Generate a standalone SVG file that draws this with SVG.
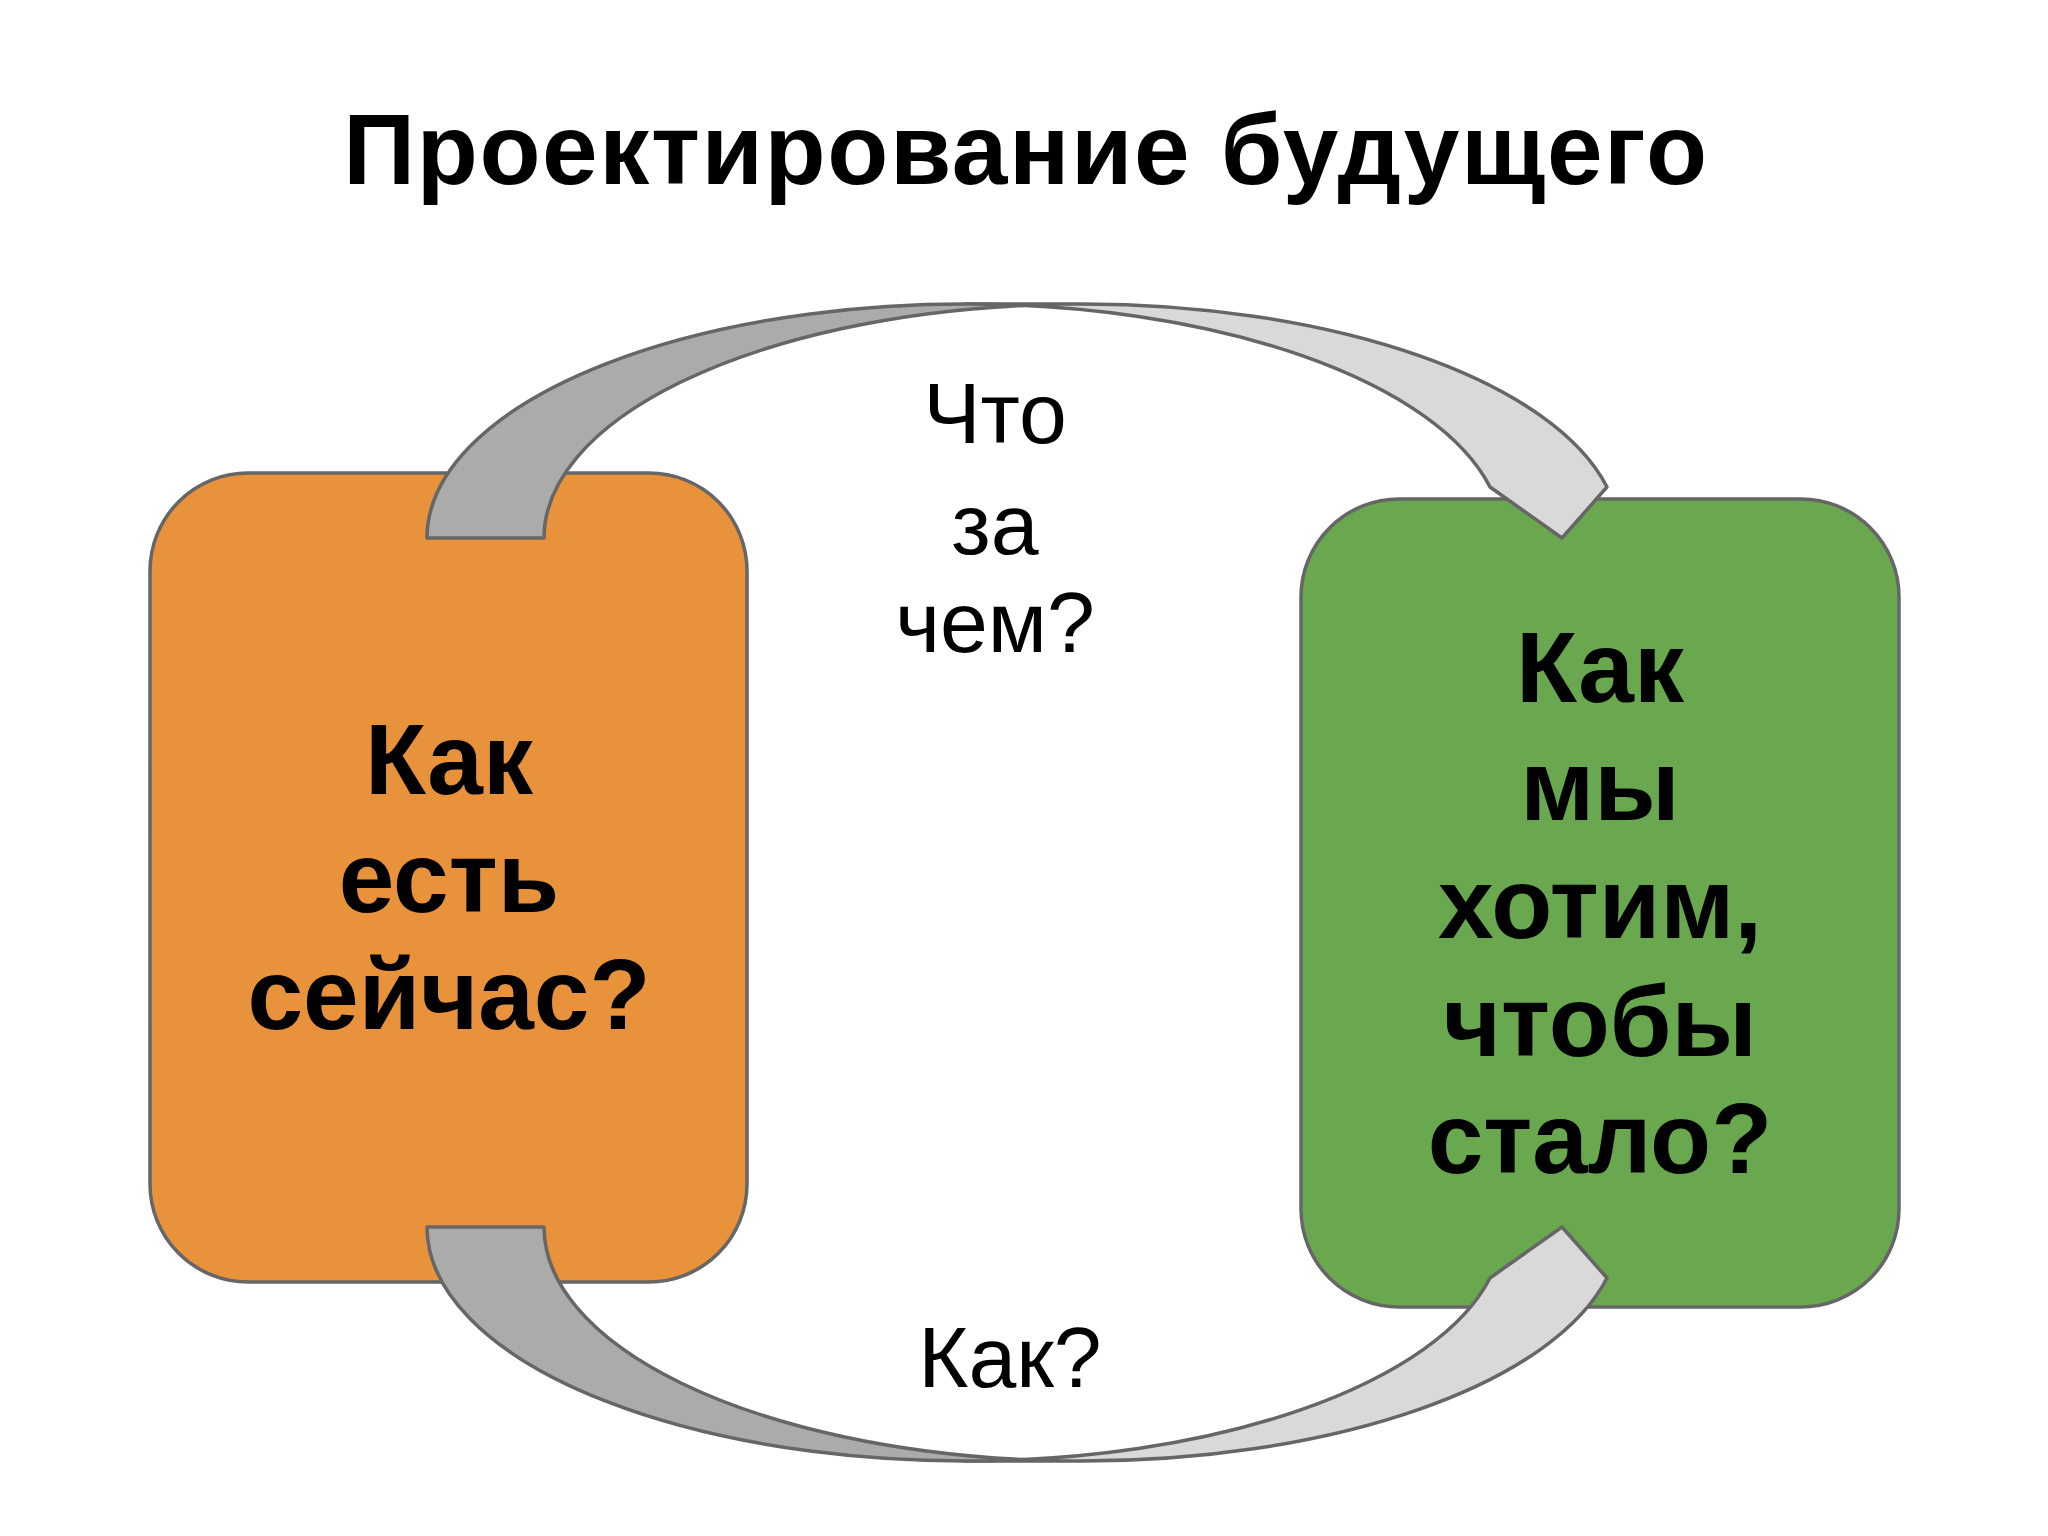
<svg xmlns="http://www.w3.org/2000/svg" xmlns:xlink="http://www.w3.org/1999/xlink" width="2048" height="1536" viewBox="0 0 2048 1536">
<style>
.box{stroke:#666666;stroke-width:3.5}
.back{fill:#ABABAB;stroke:#666666;stroke-width:3.5;stroke-linejoin:round}
.front{fill:#D9D9D9;stroke:#666666;stroke-width:3.5;stroke-linejoin:round}
.big{font-family:"Liberation Sans",Arial,sans-serif;font-weight:bold;font-size:100px;text-anchor:middle;fill:#000000}
.ttl{letter-spacing:1.6px}
.lbl{font-family:"Liberation Sans",Arial,sans-serif;font-size:86px;text-anchor:middle;fill:#000000}
</style>
<defs>
<g id="curved-arrow">
<path class="front" d="M1562,538 L1490,487 A538,234 0 0 0 965,304 L1082,304 A538,234 0 0 1 1607,487 Z"/>
<path class="back" d="M427,538 A538,234 0 0 1 1023.5,305.4 A538,234 0 0 0 544,538 Z"/>
</g>
</defs>
<rect width="2048" height="1536" fill="#ffffff"/>
<g id="title">
<text class="big ttl" x="1026" y="184">Проектирование будущего</text>
</g>
<g id="node-current">
<rect class="box" x="150" y="473" width="597" height="809" rx="98" ry="98" fill="#E8923B"/>
<text class="big" x="449" y="794">Как</text>
<text class="big" x="449" y="912">есть</text>
<text class="big" x="449" y="1029">сейчас?</text>
</g>
<g id="node-future">
<rect class="box" x="1301" y="499" width="598" height="808" rx="98" ry="98" fill="#6AA84F"/>
<text class="big" x="1600" y="702">Как</text>
<text class="big" x="1600" y="820">мы</text>
<text class="big" x="1600" y="938">хотим,</text>
<text class="big" x="1600" y="1056">чтобы</text>
<text class="big" x="1600" y="1173">стало?</text>
</g>
<g id="connectors">
<use id="arrow-top" xlink:href="#curved-arrow"/>
<use id="arrow-bottom" xlink:href="#curved-arrow" transform="matrix(1 0 0 -1 0 1765)"/>
</g>
<g id="label-what">
<text class="lbl" x="995" y="443">Что</text>
<text class="lbl" x="995" y="554">за</text>
<text class="lbl" x="995" y="652">чем?</text>
</g>
<g id="label-how">
<text class="lbl" x="1010" y="1387">Как?</text>
</g>
</svg>
